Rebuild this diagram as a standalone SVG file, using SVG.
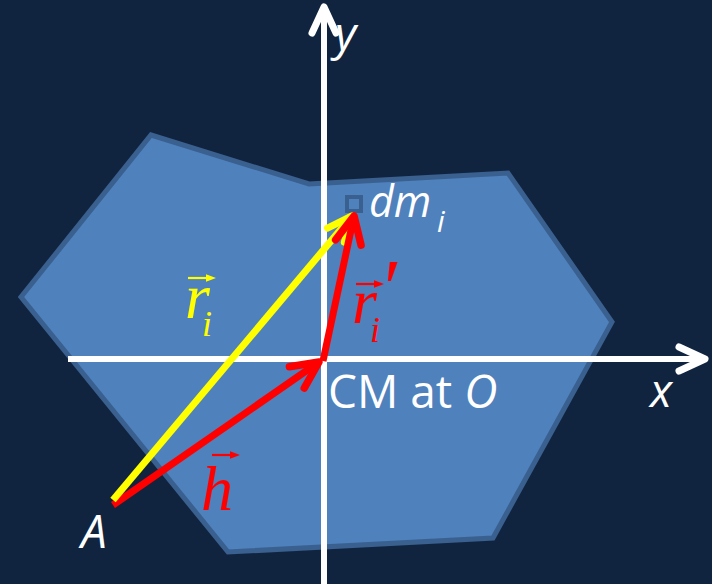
<svg xmlns="http://www.w3.org/2000/svg" width="712" height="584" viewBox="0 0 712 584">
<style>
.sans{font-family:"Open Sans","Noto Sans","Liberation Sans",sans-serif;fill:#ffffff}
.it{font-style:italic}
.math{font-family:"Liberation Serif","Times New Roman",serif;font-style:italic}
.axis{stroke:#ffffff;stroke-width:6;fill:none}
.vec{fill:none;stroke-width:7;stroke-linecap:butt}
</style>
<defs>
<marker id="aw" markerUnits="userSpaceOnUse" markerWidth="40" markerHeight="40" viewBox="-34 -20 40 40" refX="0" refY="0" orient="auto" overflow="visible">
<path d="M-26,-12 L0,0 L-26,12" fill="none" stroke="#ffffff" stroke-width="7" stroke-linecap="round" stroke-linejoin="round"/>
</marker>
<marker id="ar" markerUnits="userSpaceOnUse" markerWidth="40" markerHeight="40" viewBox="-34 -20 40 40" refX="0" refY="0" orient="auto" overflow="visible">
<path d="M-27,-13 L0,0 L-27,13" fill="none" stroke="#ff0000" stroke-width="7.5" stroke-linecap="round" stroke-linejoin="round"/>
</marker>
<marker id="ay" markerUnits="userSpaceOnUse" markerWidth="40" markerHeight="40" viewBox="-34 -20 40 40" refX="0" refY="0" orient="auto" overflow="visible">
<path d="M-25,-11 L0,0 L-25,11" fill="none" stroke="#ffff00" stroke-width="7" stroke-linecap="round" stroke-linejoin="round"/>
</marker>
<g id="acc"><line x1="0" y1="0" x2="20" y2="0" stroke-width="2.2"/><path d="M18,-3.8 L28,0 L18,3.8 Z" stroke="none"/></g>
</defs>
<rect width="712" height="584" fill="#11243f"/>
<g id="body">
<polygon points="151,135 309,184 508,173 612,322 493,538 228,552 21,297" fill="#4f81bd" stroke="#3a6090" stroke-width="5" stroke-linejoin="miter"/>
</g>
<g id="axes">
<line class="axis" x1="324" y1="584" x2="324" y2="7" marker-end="url(#aw)"/>
<line class="axis" x1="68" y1="359" x2="705" y2="359" marker-end="url(#aw)"/>
<text class="sans it" x="335" y="50" font-size="46">y</text>
<text class="sans it" x="650" y="407" font-size="46">x</text>
</g>
<g id="element-dm">
<rect x="347" y="197" width="14" height="14" fill="#4f81bd" stroke="#3a6090" stroke-width="4"/>
<text class="sans it" x="369" y="217" font-size="43">dm<tspan x="437" y="232" font-size="30">i</tspan></text>
</g>
<g id="point-A">
<text class="sans it" x="81" y="548" font-size="46">A</text>
</g>
<g id="point-O">
<text class="sans" x="328" y="408" font-size="46">CM at <tspan class="it">O</tspan></text>
</g>
<g id="connectors">
<line class="vec" stroke="#ff0000" stroke-width="7.5" x1="113" y1="505" x2="319" y2="362" marker-end="url(#ar)"/>
<line class="vec" stroke="#ffff00" x1="113" y1="500" x2="352" y2="216" marker-end="url(#ay)"/>
<line class="vec" stroke="#ff0000" stroke-width="7.5" x1="323" y1="361" x2="354" y2="216" marker-end="url(#ar)"/>
</g>
<g id="label-ri" fill="#ffff00">
<text class="math" x="185" y="318" font-size="64">r<tspan x="202" y="336" font-size="36">i</tspan></text>
<use href="#acc" x="188" y="278" stroke="#ffff00" fill="#ffff00"/>
</g>
<g id="label-rip" fill="#ff0000">
<text class="math" x="352" y="323" font-size="64">r<tspan x="379" y="315" font-size="80">′</tspan><tspan x="370" y="342" font-size="36">i</tspan></text>
<use href="#acc" x="356" y="284" stroke="#ff0000" fill="#ff0000"/>
</g>
<g id="label-h" fill="#ff0000">
<text class="math" x="201" y="510" font-size="64">h</text>
<use href="#acc" x="212" y="455" stroke="#ff0000" fill="#ff0000"/>
</g>
</svg>
